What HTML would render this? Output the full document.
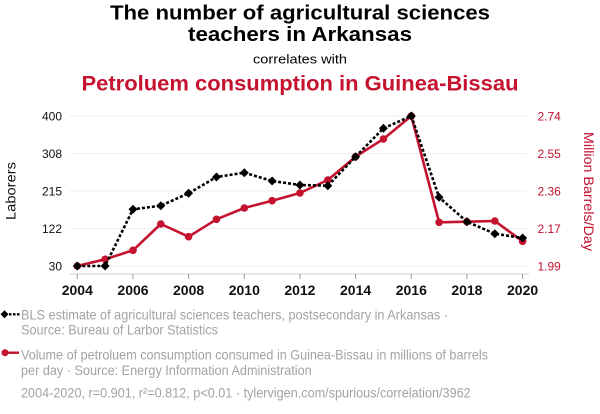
<!DOCTYPE html>
<html><head><meta charset="utf-8"><style>
html,body{margin:0;padding:0;background:#fff;}
svg{display:block;font-family:"Liberation Sans",Arial,sans-serif;}
</style></head><body>
<svg width="600" height="414" viewBox="0 0 600 414" xmlns="http://www.w3.org/2000/svg">
<rect width="600" height="414" fill="#fff"/>
<!-- titles -->
<text x="300" y="19.5" text-anchor="middle" font-size="20" font-weight="bold" fill="#000" textLength="380" lengthAdjust="spacingAndGlyphs">The number of agricultural sciences</text>
<text x="300" y="41" text-anchor="middle" font-size="20" font-weight="bold" fill="#000" textLength="224" lengthAdjust="spacingAndGlyphs">teachers in Arkansas</text>
<text x="300" y="63.5" text-anchor="middle" font-size="13" fill="#000" textLength="94" lengthAdjust="spacingAndGlyphs">correlates with</text>
<text x="300" y="90.5" text-anchor="middle" font-size="21" font-weight="bold" fill="#c4122f" textLength="437" lengthAdjust="spacingAndGlyphs">Petroluem consumption in Guinea-Bissau</text>
<!-- grid -->
<g stroke="#eeeeee" stroke-width="1">
<line x1="70" y1="116" x2="527" y2="116"/>
<line x1="70" y1="153.5" x2="527" y2="153.5"/>
<line x1="70" y1="191" x2="527" y2="191"/>
<line x1="70" y1="228.5" x2="527" y2="228.5"/>
<line x1="70" y1="266" x2="527" y2="266"/>
</g>
<!-- axis -->
<line x1="70" y1="274" x2="529" y2="274" stroke="#cccccc" stroke-width="1"/>
<g stroke="#999" stroke-width="1">
<line x1="77.3" y1="274" x2="77.3" y2="279"/>
<line x1="133" y1="274" x2="133" y2="279"/>
<line x1="188.6" y1="274" x2="188.6" y2="279"/>
<line x1="244.3" y1="274" x2="244.3" y2="279"/>
<line x1="299.9" y1="274" x2="299.9" y2="279"/>
<line x1="355.6" y1="274" x2="355.6" y2="279"/>
<line x1="411.3" y1="274" x2="411.3" y2="279"/>
<line x1="466.9" y1="274" x2="466.9" y2="279"/>
<line x1="522.6" y1="274" x2="522.6" y2="279"/>
</g>
<g font-size="14" font-weight="bold" fill="#111" text-anchor="middle">
<text x="77.3" y="295">2004</text>
<text x="133" y="295">2006</text>
<text x="188.6" y="295">2008</text>
<text x="244.3" y="295">2010</text>
<text x="299.9" y="295">2012</text>
<text x="355.6" y="295">2014</text>
<text x="411.3" y="295">2016</text>
<text x="466.9" y="295">2018</text>
<text x="522.6" y="295">2020</text>
</g>
<!-- left ticks -->
<g font-size="12" fill="#111" text-anchor="end">
<text x="62" y="120.3">400</text>
<text x="62" y="157.8">308</text>
<text x="62" y="195.3">215</text>
<text x="62" y="232.8">122</text>
<text x="62" y="270.3">30</text>
</g>
<!-- right ticks -->
<g font-size="12" fill="#c4122f" text-anchor="start">
<text x="537.5" y="120.3">2.74</text>
<text x="537.5" y="157.8">2.55</text>
<text x="537.5" y="195.3">2.36</text>
<text x="537.5" y="232.8">2.17</text>
<text x="537.5" y="270.3">1.99</text>
</g>
<text transform="translate(15.5,191) rotate(-90)" text-anchor="middle" font-size="14" fill="#111" textLength="58" lengthAdjust="spacingAndGlyphs">Laborers</text>
<text transform="translate(584,191.5) rotate(90)" text-anchor="middle" font-size="14" fill="#c4122f" textLength="119" lengthAdjust="spacingAndGlyphs">Million Barrels/Day</text>
<!-- red series -->
<polyline fill="none" stroke="#c4122f" stroke-width="2.6" stroke-linejoin="round" points="77.3,266 105.1,259.3 133,250.3 160.8,224 188.6,236.7 216.5,219.3 244.3,208 272.1,200.7 299.9,193 327.8,180 355.6,156.7 383.4,139 411.3,116 439.1,222.3 466.9,221.7 494.8,221 522.6,241.3"/>
<g fill="#c4122f">
<circle cx="77.3" cy="266" r="3.8"/><circle cx="105.1" cy="259.3" r="3.8"/><circle cx="133" cy="250.3" r="3.8"/><circle cx="160.8" cy="224" r="3.8"/><circle cx="188.6" cy="236.7" r="3.8"/><circle cx="216.5" cy="219.3" r="3.8"/><circle cx="244.3" cy="208" r="3.8"/><circle cx="272.1" cy="200.7" r="3.8"/><circle cx="299.9" cy="193" r="3.8"/><circle cx="327.8" cy="180" r="3.8"/><circle cx="355.6" cy="156.7" r="3.8"/><circle cx="383.4" cy="139" r="3.8"/><circle cx="411.3" cy="116" r="3.8"/><circle cx="439.1" cy="222.3" r="3.8"/><circle cx="466.9" cy="221.7" r="3.8"/><circle cx="494.8" cy="221" r="3.8"/><circle cx="522.6" cy="241.3" r="3.8"/>
</g>
<!-- black series -->
<polyline fill="none" stroke="#000" stroke-width="2.6" stroke-dasharray="3,2" points="77.3,266 105.1,266 133,209.3 160.8,205.7 188.6,193.3 216.5,177 244.3,172.7 272.1,181 299.9,185 327.8,185.7 355.6,156.7 383.4,128.3 411.3,116 439.1,197.3 466.9,221.7 494.8,233.7 522.6,238"/>
<g fill="#000">
<path d="M77.3 261.5L81.8 266L77.3 270.5L72.8 266Z"/>
<path d="M105.1 261.5L109.6 266L105.1 270.5L100.6 266Z"/>
<path d="M133 204.8L137.5 209.3L133 213.8L128.5 209.3Z"/>
<path d="M160.8 201.2L165.3 205.7L160.8 210.2L156.3 205.7Z"/>
<path d="M188.6 188.8L193.1 193.3L188.6 197.8L184.1 193.3Z"/>
<path d="M216.5 172.5L221 177L216.5 181.5L212 177Z"/>
<path d="M244.3 168.2L248.8 172.7L244.3 177.2L239.8 172.7Z"/>
<path d="M272.1 176.5L276.6 181L272.1 185.5L267.6 181Z"/>
<path d="M299.9 180.5L304.4 185L299.9 189.5L295.4 185Z"/>
<path d="M327.8 181.2L332.3 185.7L327.8 190.2L323.3 185.7Z"/>
<path d="M355.6 152.2L360.1 156.7L355.6 161.2L351.1 156.7Z"/>
<path d="M383.4 123.8L387.9 128.3L383.4 132.8L378.9 128.3Z"/>
<path d="M411.3 111.5L415.8 116L411.3 120.5L406.8 116Z"/>
<path d="M439.1 192.8L443.6 197.3L439.1 201.8L434.6 197.3Z"/>
<path d="M466.9 217.2L471.4 221.7L466.9 226.2L462.4 221.7Z"/>
<path d="M494.8 229.2L499.3 233.7L494.8 238.2L490.3 233.7Z"/>
<path d="M522.6 233.5L527.1 238L522.6 242.5L518.1 238Z"/>
</g>
<!-- legend -->
<line x1="5" y1="314.3" x2="21" y2="314.3" stroke="#000" stroke-width="2.4" stroke-dasharray="2.5,1.5"/>
<path d="M4.5 310.3L8.5 314.3L4.5 318.3L0.5 314.3Z" fill="#000"/>
<line x1="4" y1="352.7" x2="19" y2="352.7" stroke="#c4122f" stroke-width="2.4"/>
<circle cx="5" cy="352.7" r="3.5" fill="#c4122f"/>
<g font-size="14" fill="#a3a3a3">
<text x="21" y="319.5" textLength="427" lengthAdjust="spacingAndGlyphs">BLS estimate of agricultural sciences teachers, postsecondary in Arkansas ·</text>
<text x="21" y="334.5" textLength="197" lengthAdjust="spacingAndGlyphs">Source: Bureau of Larbor Statistics</text>
<text x="21" y="359.3" textLength="467" lengthAdjust="spacingAndGlyphs">Volume of petroluem consumption consumed in Guinea-Bissau in millions of barrels</text>
<text x="21" y="375" textLength="290.7" lengthAdjust="spacingAndGlyphs">per day · Source: Energy Information Administration</text>
<text x="21" y="397.7" textLength="449.7" lengthAdjust="spacingAndGlyphs">2004-2020, r=0.901, r²=0.812, p&lt;0.01 · tylervigen.com/spurious/correlation/3962</text>
</g>
</svg>
</body></html>
